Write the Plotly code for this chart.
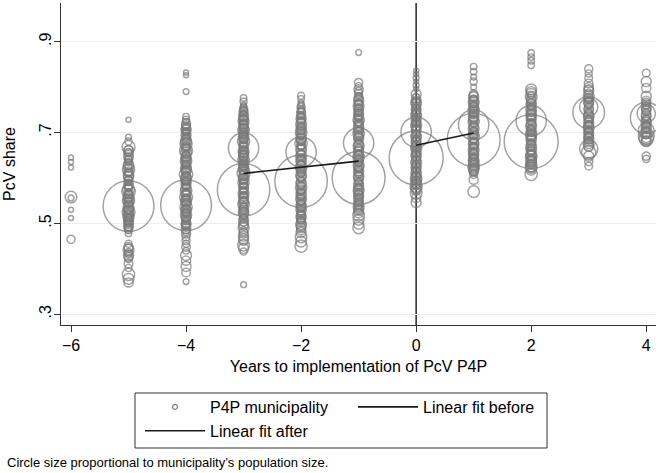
import plotly.graph_objects as go

# ---------------- data ----------------
# (PcV share, municipality population in thousands) per year to implementation
years = [-6, -5, -4, -3, -2, -1, 0, 1, 2, 3, 4]

yr_m6 = [(0.645, 3), (0.635, 3), (0.623, 3), (0.558, 16), (0.556, 4), (0.530, 3), (0.512, 3), (0.465, 8)]

yr_m5 = [(0.728, 3), (0.690, 4), (0.680, 6), (0.668, 20), (0.662, 9), (0.660, 12), (0.655, 8), (0.650, 11),
         (0.645, 10), (0.640, 8), (0.635, 6), (0.630, 12), (0.625, 14), (0.621, 7), (0.618, 18), (0.614, 10),
         (0.610, 9), (0.606, 13), (0.603, 12), (0.598, 7), (0.594, 9), (0.590, 5), (0.586, 11), (0.582, 10),
         (0.578, 8), (0.575, 16), (0.570, 22), (0.566, 10), (0.563, 8), (0.559, 14), (0.556, 12), (0.553, 9),
         (0.550, 18), (0.547, 12), (0.545, 9), (0.541, 8), (0.538, 310), (0.535, 14), (0.532, 10), (0.530, 11),
         (0.527, 13), (0.525, 20), (0.522, 9), (0.520, 8), (0.517, 11), (0.515, 15), (0.512, 7), (0.510, 10),
         (0.507, 10), (0.505, 12), (0.501, 8), (0.498, 9), (0.495, 12), (0.492, 7), (0.488, 9), (0.485, 6),
         (0.478, 5), (0.455, 6), (0.448, 10), (0.445, 9), (0.442, 14), (0.436, 8), (0.433, 7), (0.430, 12),
         (0.426, 10), (0.422, 7), (0.412, 9), (0.402, 6), (0.388, 18), (0.378, 14), (0.370, 10),
         (0.657, 6), (0.643, 5), (0.627, 6), (0.612, 5), (0.596, 6), (0.580, 5), (0.568, 6), (0.552, 5),
         (0.543, 6), (0.528, 5), (0.513, 6), (0.503, 5), (0.490, 6)]

yr_m4 = [(0.832, 3), (0.826, 3), (0.790, 4), (0.735, 5), (0.728, 6), (0.720, 10), (0.716, 9), (0.712, 8),
         (0.708, 11), (0.705, 12), (0.701, 8), (0.698, 7), (0.694, 12), (0.690, 9), (0.686, 9), (0.682, 14),
         (0.678, 13), (0.675, 18), (0.671, 8), (0.668, 10), (0.664, 11), (0.660, 20), (0.656, 14), (0.652, 8),
         (0.648, 9), (0.645, 12), (0.641, 10), (0.638, 16), (0.634, 12), (0.630, 9), (0.626, 8), (0.622, 14),
         (0.618, 13), (0.615, 11), (0.611, 9), (0.608, 22), (0.604, 11), (0.600, 13), (0.597, 14), (0.594, 9),
         (0.591, 8), (0.588, 12), (0.584, 10), (0.580, 8), (0.576, 12), (0.572, 16), (0.568, 9), (0.565, 10),
         (0.561, 11), (0.558, 20), (0.554, 8), (0.551, 14), (0.548, 13), (0.545, 9), (0.542, 10), (0.540, 310),
         (0.536, 18), (0.533, 9), (0.530, 12), (0.527, 12), (0.525, 8), (0.521, 8), (0.518, 15), (0.515, 11),
         (0.512, 10), (0.508, 9), (0.505, 7), (0.501, 10), (0.498, 12), (0.495, 8), (0.492, 9), (0.488, 11),
         (0.485, 6), (0.481, 7), (0.478, 10), (0.470, 7), (0.462, 8), (0.455, 6), (0.448, 9), (0.440, 5),
         (0.430, 14), (0.418, 10), (0.405, 12), (0.392, 9), (0.372, 4),
         (0.724, 5), (0.714, 6), (0.703, 5), (0.692, 6), (0.680, 5), (0.666, 6), (0.654, 5), (0.643, 6),
         (0.632, 5), (0.620, 6), (0.606, 5), (0.595, 6), (0.582, 5), (0.570, 6), (0.556, 5), (0.546, 6),
         (0.534, 5), (0.523, 6), (0.510, 5), (0.497, 6)]

yr_m3 = [(0.776, 5), (0.768, 6), (0.760, 4), (0.752, 8), (0.748, 7), (0.745, 10), (0.740, 6), (0.738, 9),
         (0.735, 12), (0.730, 8), (0.728, 11), (0.725, 14), (0.720, 9), (0.718, 8), (0.715, 11), (0.710, 7),
         (0.708, 12), (0.705, 16), (0.700, 10), (0.698, 9), (0.695, 8), (0.690, 13), (0.688, 11), (0.685, 9),
         (0.680, 18), (0.678, 10), (0.675, 7), (0.670, 11), (0.668, 8), (0.666, 110), (0.662, 9), (0.658, 14),
         (0.656, 12), (0.654, 8), (0.650, 12), (0.648, 9), (0.645, 10), (0.640, 16), (0.638, 11), (0.635, 7),
         (0.630, 12), (0.628, 10), (0.625, 9), (0.620, 14), (0.618, 12), (0.615, 8), (0.610, 20), (0.608, 9),
         (0.605, 10), (0.600, 12), (0.598, 13), (0.595, 7), (0.590, 15), (0.588, 8), (0.585, 9), (0.580, 11),
         (0.578, 11), (0.574, 330), (0.572, 8), (0.568, 10), (0.566, 14), (0.560, 10), (0.558, 9), (0.555, 12),
         (0.548, 9), (0.546, 12), (0.542, 16), (0.536, 8), (0.534, 10), (0.530, 11), (0.524, 13), (0.522, 11),
         (0.518, 9), (0.512, 7), (0.510, 9), (0.505, 12), (0.498, 10), (0.495, 11), (0.490, 14), (0.482, 9),
         (0.478, 10), (0.472, 12), (0.466, 12), (0.462, 10), (0.452, 16), (0.445, 12), (0.438, 6), (0.365, 4),
         (0.757, 5), (0.750, 6), (0.742, 5), (0.733, 6), (0.722, 5), (0.712, 6), (0.702, 5), (0.692, 6),
         (0.683, 5), (0.672, 6), (0.660, 5), (0.652, 6), (0.642, 5), (0.632, 6), (0.622, 5), (0.612, 6),
         (0.602, 5), (0.592, 6), (0.582, 5), (0.570, 6), (0.562, 5), (0.551, 6), (0.540, 5), (0.528, 6),
         (0.515, 5), (0.502, 6)]

yr_m2 = [(0.781, 6), (0.774, 5), (0.765, 4), (0.755, 8), (0.748, 6), (0.745, 8), (0.742, 10), (0.736, 7),
         (0.733, 10), (0.730, 12), (0.724, 9), (0.721, 9), (0.718, 14), (0.712, 8), (0.709, 12), (0.706, 11),
         (0.700, 16), (0.697, 10), (0.694, 9), (0.688, 13), (0.685, 11), (0.682, 10), (0.676, 18), (0.673, 9),
         (0.670, 8), (0.664, 12), (0.661, 13), (0.657, 110), (0.654, 9), (0.651, 10), (0.648, 14), (0.642, 10),
         (0.639, 12), (0.636, 12), (0.630, 8), (0.627, 9), (0.624, 16), (0.618, 11), (0.615, 11), (0.612, 9),
         (0.606, 14), (0.603, 10), (0.600, 10), (0.593, 330), (0.590, 12), (0.587, 12), (0.584, 8), (0.578, 15),
         (0.575, 9), (0.572, 10), (0.566, 12), (0.563, 11), (0.560, 9), (0.554, 14), (0.551, 10), (0.548, 8),
         (0.542, 11), (0.539, 12), (0.536, 10), (0.530, 13), (0.527, 9), (0.522, 9), (0.518, 11), (0.514, 12),
         (0.510, 10), (0.506, 8), (0.502, 9), (0.498, 14), (0.494, 11), (0.490, 10), (0.485, 10), (0.480, 12),
         (0.470, 16), (0.460, 14), (0.450, 18),
         (0.760, 5), (0.751, 6), (0.739, 5), (0.727, 6), (0.715, 5), (0.703, 6), (0.691, 5), (0.679, 6),
         (0.667, 5), (0.655, 6), (0.645, 5), (0.633, 6), (0.621, 5), (0.609, 6), (0.597, 5), (0.581, 6),
         (0.569, 5), (0.557, 6), (0.545, 5), (0.533, 6), (0.520, 5), (0.508, 6)]

yr_m1 = [(0.876, 4), (0.810, 8), (0.802, 6), (0.795, 10), (0.790, 8), (0.786, 7), (0.778, 9), (0.774, 10),
         (0.770, 12), (0.764, 8), (0.761, 9), (0.758, 14), (0.752, 10), (0.749, 11), (0.746, 7), (0.740, 12),
         (0.737, 10), (0.734, 9), (0.728, 15), (0.725, 12), (0.722, 8), (0.716, 11), (0.713, 9), (0.710, 13),
         (0.704, 9), (0.701, 11), (0.698, 16), (0.692, 10), (0.689, 10), (0.686, 12), (0.677, 110), (0.676, 8),
         (0.673, 12), (0.670, 14), (0.664, 10), (0.661, 9), (0.658, 12), (0.652, 9), (0.649, 11), (0.646, 16),
         (0.640, 11), (0.637, 10), (0.634, 8), (0.628, 14), (0.625, 12), (0.622, 10), (0.616, 12), (0.613, 9),
         (0.610, 9), (0.604, 13), (0.601, 11), (0.600, 335), (0.596, 10), (0.590, 8), (0.587, 10), (0.584, 12),
         (0.578, 9), (0.575, 12), (0.572, 14), (0.566, 10), (0.563, 9), (0.560, 12), (0.556, 11), (0.552, 9),
         (0.548, 10), (0.544, 11), (0.540, 9), (0.536, 14), (0.532, 12), (0.528, 10), (0.523, 11), (0.518, 16),
         (0.508, 14), (0.498, 12), (0.490, 16),
         (0.781, 5), (0.767, 6), (0.755, 5), (0.743, 6), (0.731, 5), (0.719, 6), (0.707, 5), (0.695, 6),
         (0.683, 5), (0.667, 6), (0.655, 5), (0.643, 6), (0.631, 5), (0.619, 6), (0.607, 5), (0.593, 6),
         (0.581, 5), (0.569, 6), (0.558, 5), (0.546, 6), (0.534, 5)]

yr_0 = [(0.836, 3), (0.828, 3), (0.820, 4), (0.812, 3), (0.804, 4), (0.796, 3), (0.784, 12), (0.775, 10),
        (0.770, 9), (0.766, 14), (0.762, 11), (0.758, 8), (0.752, 11), (0.749, 10), (0.746, 9), (0.740, 13),
        (0.737, 12), (0.734, 8), (0.728, 12), (0.725, 9), (0.722, 10), (0.716, 14), (0.713, 11), (0.710, 9),
        (0.707, 10), (0.704, 11), (0.701, 110), (0.696, 8), (0.693, 12), (0.690, 13), (0.684, 10), (0.681, 9),
        (0.678, 12), (0.672, 9), (0.669, 11), (0.666, 15), (0.660, 10), (0.657, 10), (0.654, 8), (0.651, 12),
        (0.648, 12), (0.644, 350), (0.640, 10), (0.637, 9), (0.634, 14), (0.628, 9), (0.625, 11), (0.622, 12),
        (0.616, 8), (0.613, 10), (0.610, 13), (0.604, 10), (0.601, 12), (0.598, 16), (0.594, 11), (0.590, 12),
        (0.586, 13), (0.582, 18), (0.578, 12), (0.574, 14), (0.566, 16), (0.556, 10), (0.546, 12),
        (0.779, 5), (0.768, 6), (0.755, 5), (0.743, 6), (0.731, 5), (0.719, 6), (0.709, 5), (0.698, 6),
        (0.687, 5), (0.675, 6), (0.663, 5), (0.652, 6), (0.642, 5), (0.631, 6), (0.619, 5), (0.607, 6),
        (0.596, 5), (0.584, 6), (0.570, 5)]

yr_1 = [(0.845, 5), (0.834, 5), (0.822, 4), (0.812, 6), (0.800, 4), (0.785, 8), (0.781, 10), (0.778, 12),
        (0.772, 10), (0.769, 12), (0.766, 14), (0.760, 9), (0.757, 9), (0.754, 12), (0.748, 16), (0.745, 11),
        (0.742, 10), (0.736, 13), (0.733, 10), (0.730, 9), (0.727, 12), (0.724, 15), (0.717, 110), (0.714, 11),
        (0.711, 9), (0.708, 14), (0.702, 9), (0.699, 11), (0.696, 12), (0.690, 16), (0.687, 10), (0.684, 335),
        (0.680, 10), (0.677, 12), (0.674, 13), (0.668, 9), (0.665, 9), (0.662, 14), (0.656, 11), (0.653, 11),
        (0.650, 12), (0.644, 10), (0.641, 10), (0.638, 14), (0.635, 12), (0.632, 12), (0.628, 11), (0.625, 16),
        (0.621, 13), (0.618, 12), (0.614, 10), (0.608, 8), (0.596, 10), (0.570, 16),
        (0.775, 5), (0.763, 6), (0.751, 5), (0.739, 6), (0.727, 5), (0.720, 6), (0.705, 5), (0.693, 6),
        (0.682, 5), (0.671, 6), (0.659, 5), (0.647, 6), (0.636, 5), (0.623, 6), (0.611, 5)]

yr_2 = [(0.875, 5), (0.866, 5), (0.858, 5), (0.848, 5), (0.795, 14), (0.790, 12), (0.786, 12), (0.778, 16),
        (0.774, 10), (0.770, 10), (0.764, 12), (0.761, 11), (0.758, 9), (0.752, 14), (0.749, 9), (0.746, 11),
        (0.740, 13), (0.737, 12), (0.734, 9), (0.731, 10), (0.728, 12), (0.726, 110), (0.720, 10), (0.717, 11),
        (0.714, 14), (0.708, 9), (0.705, 9), (0.702, 12), (0.696, 15), (0.693, 12), (0.690, 10), (0.687, 10),
        (0.684, 13), (0.680, 350), (0.676, 9), (0.673, 11), (0.670, 12), (0.664, 14), (0.661, 9), (0.658, 10),
        (0.652, 13), (0.649, 12), (0.646, 16), (0.643, 10), (0.640, 12), (0.637, 11), (0.634, 14), (0.630, 12),
        (0.626, 16), (0.622, 14), (0.618, 14), (0.608, 18),
        (0.782, 5), (0.767, 6), (0.755, 5), (0.743, 6), (0.733, 5), (0.723, 6), (0.711, 5), (0.699, 6),
        (0.689, 5), (0.678, 6), (0.667, 5), (0.655, 6), (0.644, 5), (0.632, 6), (0.620, 5)]

yr_3 = [(0.840, 8), (0.830, 6), (0.820, 7), (0.808, 9), (0.800, 10), (0.795, 10), (0.792, 12), (0.786, 9),
        (0.780, 14), (0.777, 9), (0.774, 10), (0.768, 12), (0.765, 11), (0.762, 9), (0.756, 40), (0.753, 10),
        (0.750, 11), (0.744, 120), (0.740, 10), (0.737, 12), (0.734, 13), (0.728, 9), (0.725, 9), (0.722, 12),
        (0.716, 10), (0.713, 11), (0.710, 14), (0.704, 9), (0.701, 10), (0.698, 12), (0.692, 10), (0.689, 9),
        (0.686, 13), (0.680, 9), (0.676, 12), (0.672, 14), (0.668, 10), (0.664, 40), (0.656, 24), (0.648, 12),
        (0.636, 8), (0.626, 7),
        (0.771, 5), (0.759, 6), (0.747, 5), (0.731, 6), (0.719, 5), (0.707, 6), (0.695, 5), (0.683, 6)]

yr_4 = [(0.831, 7), (0.812, 12), (0.798, 10), (0.780, 12), (0.770, 10), (0.766, 9), (0.762, 9), (0.755, 12),
        (0.751, 10), (0.748, 10), (0.742, 40), (0.739, 11), (0.736, 11), (0.732, 120), (0.728, 10), (0.725, 9),
        (0.722, 13), (0.716, 9), (0.713, 10), (0.710, 12), (0.704, 30), (0.701, 11), (0.698, 14), (0.692, 30),
        (0.689, 12), (0.686, 24), (0.683, 10), (0.680, 12), (0.648, 8), (0.642, 6),
        (0.758, 5), (0.745, 6), (0.733, 5), (0.719, 6), (0.707, 5), (0.695, 6)]

fit_before_x = [-3, -1]
fit_before_y = [0.610, 0.637]
fit_after_x = [0, 1]
fit_after_y = [0.672, 0.699]

implementation_year = 0

x_tick_vals = [-6, -4, -2, 0, 2, 4]
x_tick_text = ["\u22126", "\u22124", "\u22122", "0", "2", "4"]
y_tick_vals = [0.3, 0.5, 0.7, 0.9]
y_tick_text = [".3", ".5", ".7", ".9"]

# ---------------- assemble ----------------
columns = [yr_m6, yr_m5, yr_m4, yr_m3, yr_m2, yr_m1, yr_0, yr_1, yr_2, yr_3, yr_4]

xs, ys, ws = [], [], []
for yr, col in zip(years, columns):
    for share, pop in col:
        xs.append(yr)
        ys.append(share)
        ws.append(pop)

GRAY = "#7a7a7a"
FONT = "Liberation Sans, Arial, Helvetica, sans-serif"
max_px = 54
sizeref = 2.0 * max(ws) / (max_px ** 2)

fig = go.Figure()

fig.add_trace(go.Scatter(
    x=xs, y=ys, mode="markers", showlegend=False, hoverinfo="skip",
    marker=dict(size=ws, sizemode="area", sizeref=sizeref, sizemin=0,
                symbol="circle", color="rgba(0,0,0,0)",
                line=dict(color=GRAY, width=1.45)),
))

# legend entry for the markers
fig.add_trace(go.Scatter(
    x=[None], y=[None], mode="markers", name="P4P municipality",
    legendgroup="a",
    marker=dict(size=5, symbol="circle", color="rgba(0,0,0,0)",
                line=dict(color=GRAY, width=1.2)),
))

fig.add_trace(go.Scatter(
    x=fit_before_x, y=fit_before_y, mode="lines", name="Linear fit before",
    legendgroup="b", line=dict(color="#1a1a1a", width=1.6),
))
fig.add_trace(go.Scatter(
    x=fit_after_x, y=fit_after_y, mode="lines", name="Linear fit after",
    legendgroup="a", line=dict(color="#1a1a1a", width=1.6),
))

fig.add_shape(type="line", xref="x", yref="paper",
              x0=implementation_year, x1=implementation_year, y0=0, y1=1,
              line=dict(color="#333333", width=1.6), layer="below")

L, R, T, B = 61, 8, 3, 148
W, H = 664, 473
pw, ph = W - L - R, H - T - B


def px_x(p):
    return (p - L) / pw


def px_y(p):
    return (T + ph - p) / ph


# legend frame
fig.add_shape(type="rect", xref="paper", yref="paper",
              x0=px_x(135), x1=px_x(547), y0=px_y(448), y1=px_y(393),
              line=dict(color="#333333", width=1), fillcolor="rgba(0,0,0,0)")

fig.add_annotation(
    text="Circle size proportional to municipality\u2019s population size.",
    xref="paper", yref="paper", x=px_x(5), y=px_y(462),
    xanchor="left", yanchor="middle", showarrow=False,
    font=dict(family=FONT, size=13, color="#000000"),
)

axis_common = dict(
    ticks="outside", ticklen=6, tickwidth=1, tickcolor="#333333",
    showline=True, linecolor="#333333", linewidth=1, zeroline=False,
    tickfont=dict(family=FONT, size=16, color="#000000"),
)

fig.update_layout(
    width=W, height=H,
    margin=dict(l=L, r=R, t=T, b=B, autoexpand=False),
    paper_bgcolor="white", plot_bgcolor="white",
    font=dict(family=FONT, size=16, color="#000000"),
    xaxis=dict(range=[-6.174, 4.17], tickvals=x_tick_vals, ticktext=x_tick_text,
               showgrid=False,
               title=dict(text="Years to implementation of PcV P4P",
                          font=dict(family=FONT, size=16), standoff=7),
               **axis_common),
    yaxis=dict(range=[0.2764, 0.985], tickvals=y_tick_vals, ticktext=y_tick_text,
               tickangle=-90, showgrid=True, gridcolor="#e8f0f1", gridwidth=1,
               ticklabelstandoff=-3,
               title=dict(text="PcV share", font=dict(family=FONT, size=16), standoff=16),
               **axis_common),
    legend=dict(orientation="h", traceorder="grouped",
                x=px_x(140), xanchor="left",
                y=px_y(390), yanchor="top",
                itemwidth=60, entrywidth=138, tracegroupgap=0,
                borderwidth=0, bgcolor="rgba(0,0,0,0)",
                font=dict(family=FONT, size=16, color="#000000")),
)

fig.write_html("out.html", config={"displayModeBar": False},
               post_script="document.body.style.margin='0px';")
